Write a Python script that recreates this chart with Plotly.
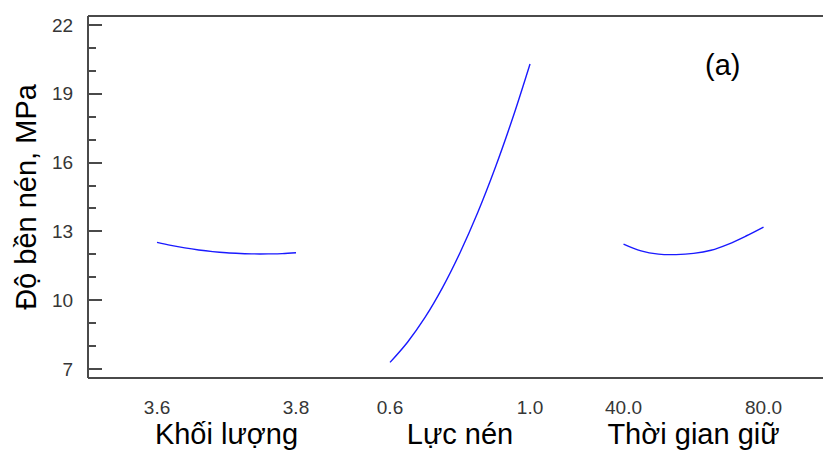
import plotly.graph_objects as go

# ---- data ----
mass_x = [3.60, 3.62, 3.64, 3.66, 3.68, 3.70, 3.72, 3.74, 3.76, 3.78, 3.80]
mass_y = [12.52, 12.39, 12.28, 12.19, 12.12, 12.07, 12.04, 12.02, 12.02, 12.03, 12.07]

force_x = [0.60, 0.65, 0.70, 0.75, 0.80, 0.85, 0.90, 0.95, 1.00]
force_y = [7.29, 8.17, 9.25, 10.55, 12.07, 13.80, 15.75, 17.92, 20.30]

time_x = [40, 45, 50, 55, 60, 65, 70, 75, 80]
time_y = [12.45, 12.15, 12.01, 11.99, 12.04, 12.18, 12.45, 12.80, 13.19]

y_ticks = [7, 10, 13, 16, 19, 22]
mass_ticks = [3.6, 3.8]
mass_ticktext = ["3.6", "3.8"]
force_ticks = [0.6, 1.0]
force_ticktext = ["0.6", "1.0"]
time_ticks = [40, 80]
time_ticktext = ["40.0", "80.0"]

y_title = "Độ bền nén, MPa"
x_titles = ["Khối lượng", "Lực nén", "Thời gian giữ"]
panel_label = "(a)"

# ---- styling ----
LINE_COLOR = "#1a1aff"
AXIS_COLOR = "#4a4a4a"
FONT = "Liberation Sans, Arial, sans-serif"
TICK_FONT = dict(family=FONT, size=19, color="#363636")
TITLE_FONT = dict(family=FONT, size=29, color="#000000")

fig = go.Figure()
for xs, ys, ax in [(mass_x, mass_y, "x"), (force_x, force_y, "x2"), (time_x, time_y, "x3")]:
    fig.add_trace(go.Scatter(x=xs, y=ys, mode="lines", xaxis=ax, yaxis="y",
                             line=dict(color=LINE_COLOR, width=1.4), line_shape="spline",
                             showlegend=False, hoverinfo="skip"))


def xaxis_def(domain, rng, tickvals, ticktext, title):
    return dict(domain=domain, range=rng, tickvals=tickvals, ticktext=ticktext,
                showgrid=False, zeroline=False, showline=False, ticks="",
                tickfont=TICK_FONT, anchor="y", ticklabelstandoff=16,
                automargin=False, fixedrange=True,
                title=dict(text=title, font=TITLE_FONT, standoff=6))


fig.update_layout(
    width=823, height=450,
    margin=dict(l=88, r=0, t=16, b=72, autoexpand=False),
    paper_bgcolor="white", plot_bgcolor="white",
    font=dict(family=FONT),
    xaxis=xaxis_def([0.0296, 0.3473], [3.532, 3.868], mass_ticks, mass_ticktext, x_titles[0]),
    xaxis2=xaxis_def([0.3473, 0.665], [0.4665, 1.1335], force_ticks, force_ticktext, x_titles[1]),
    xaxis3=xaxis_def([0.665, 0.9827], [26.64, 93.36], time_ticks, time_ticktext, x_titles[2]),
    yaxis=dict(range=[6.61, 22.39], tickvals=y_ticks, showgrid=False, zeroline=False,
               anchor="free", position=0,
               showline=True, linecolor=AXIS_COLOR, linewidth=2,
               ticks="inside", ticklen=13, tickwidth=2, tickcolor=AXIS_COLOR,
               minor=dict(ticks="inside", ticklen=7, tickwidth=2, dtick=1, tick0=7,
                          tickcolor=AXIS_COLOR),
               tickfont=TICK_FONT, ticklabelstandoff=10, automargin=False,
               title=dict(text=y_title, font=TITLE_FONT, standoff=6), fixedrange=True),
    yaxis2=dict(matches="y", overlaying="y", side="right", anchor="free", position=1,
                showgrid=False, zeroline=False, showline=False, showticklabels=False,
                tickvals=y_ticks, ticks="inside", ticklen=2, tickwidth=2,
                tickcolor=AXIS_COLOR, automargin=False, fixedrange=True),
    shapes=[
        dict(type="line", xref="paper", yref="paper", x0=0, x1=1, y0=1, y1=1,
             line=dict(color=AXIS_COLOR, width=2)),
        dict(type="line", xref="paper", yref="paper", x0=0, x1=1, y0=0, y1=0,
             line=dict(color=AXIS_COLOR, width=2)),
    ],
    annotations=[
        dict(text=panel_label, xref="paper", yref="paper", x=0.8626, y=0.8646,
             xanchor="center", yanchor="middle", showarrow=False,
             font=dict(family=FONT, size=29, color="#000000"))
    ],
)

fig.write_html("out.html", config=dict(displayModeBar=False),
               post_script="document.body.style.margin='0';document.body.style.overflow='hidden';")
